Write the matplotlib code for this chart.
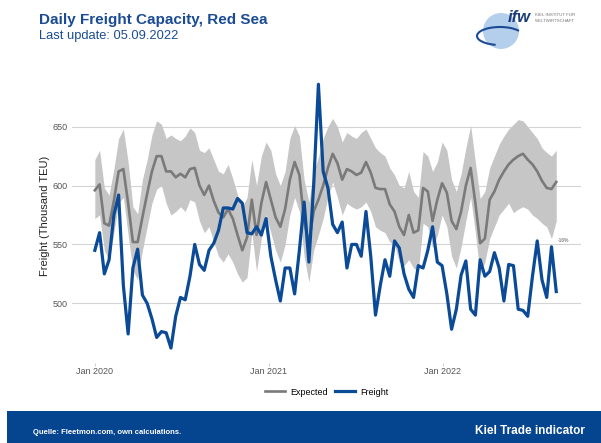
import numpy as np
import pandas as pd
import matplotlib
matplotlib.use('Agg')
import matplotlib.pyplot as plt
from matplotlib.patches import Rectangle, Ellipse, Arc

plt.rcParams['font.family'] = ['Liberation Sans', 'DejaVu Sans']

# 10-day steps from Jan 2020 to end of Aug 2022
dates = pd.date_range('2020-01-01', periods=98, freq='10D')

freight = [545, 560, 525, 537, 575, 592, 515, 474, 530, 546,
           507, 500, 487, 471, 476, 475, 462, 489, 505, 503,
           523, 550, 533, 528, 545, 551, 562, 581, 581, 580,
           589, 585, 560, 559, 565, 558, 572, 540, 520, 502,
           530, 530, 508, 545, 586, 535, 600, 686, 612, 598,
           567, 560, 569, 530, 550, 550, 540, 578, 540, 490,
           515, 537, 523, 553, 547, 525, 512, 505, 532, 530,
           545, 565, 535, 532, 508, 478, 495, 524, 536, 495,
           490, 537, 523, 527, 543, 530, 502, 533, 532, 495,
           494, 489, 523, 553, 520, 505, 548, 510]

expected = [596, 601, 568, 566, 587, 612, 614, 585, 552, 552,
            573, 593, 612, 625, 625, 612, 612, 607, 610, 607,
            614, 615, 600, 592, 600, 587, 577, 573, 580, 572,
            558, 545, 556, 588, 558, 585, 603, 588, 573, 565,
            580, 605, 620, 609, 570, 551, 578, 588, 600, 615,
            627, 619, 605, 614, 612, 609, 611, 620, 611, 598,
            597, 597, 584, 578, 565, 558, 575, 560, 562, 598,
            595, 570, 588, 602, 594, 570, 563, 578, 600, 615,
            585, 551, 555, 588, 595, 605, 612, 618, 622, 625,
            627, 622, 618, 612, 604, 598, 597, 603]

expected_lo = [572, 575, 545, 536, 560, 585, 590, 558, 528, 520,
               545, 565, 585, 597, 600, 585, 575, 578, 582, 578,
               588, 586, 570, 560, 565, 552, 540, 535, 542, 535,
               525, 518, 522, 560, 527, 555, 575, 560, 545, 535,
               550, 575, 590, 578, 540, 518, 545, 558, 572, 590,
               603, 590, 575, 585, 582, 580, 582, 586, 578, 565,
               562, 560, 552, 550, 535, 532, 537, 530, 527, 568,
               565, 547, 558, 575, 565, 540, 530, 548, 570, 590,
               560, 524, 535, 555, 565, 575, 580, 585, 577, 580,
               582, 580, 575, 572, 568, 565, 555, 570]

expected_hi = [622, 630, 598, 592, 614, 640, 648, 620, 582, 576,
               605, 622, 643, 655, 652, 640, 643, 640, 638, 642,
               649, 645, 630, 628, 632, 622, 612, 610, 618, 606,
               592, 582, 590, 622, 600, 625, 637, 630, 610, 600,
               612, 640, 651, 642, 605, 586, 612, 624, 640, 650,
               657, 650, 637, 645, 642, 640, 645, 648, 640, 632,
               628, 625, 615, 609, 600, 598, 612, 595, 590, 629,
               625, 612, 620, 637, 630, 605, 595, 610, 632, 651,
               620, 589, 595, 615, 625, 635, 642, 648, 652, 656,
               655, 650, 645, 640, 632, 628, 625, 630]

blue = '#0b4a97'
grey_line = '#7a7a7a'
band = '#c6c6c6'

fig = plt.figure(figsize=(6.01, 4.43), dpi=100)
ax = fig.add_axes([0.1198, 0.1813, 0.8469, 0.6641])

ax.fill_between(dates, expected_lo, expected_hi, color=band, lw=0)
ax.plot(dates, expected, color=grey_line, lw=1.9, label='Expected')
ax.plot(dates, freight, color=blue, lw=2.3, label='Freight')

ax.text(dates[-1] + pd.Timedelta(days=3), 553, '-16%', fontsize=3.5,
        color='#555555', va='center', ha='left')

x0 = pd.Timestamp('2020-01-01')
ax.set_xlim(x0 - pd.Timedelta(days=48), x0 + pd.Timedelta(days=1022))
ax.set_ylim(449.6, 699.4)

ax.set_yticks([500, 550, 600, 650])
ax.set_xticks([pd.Timestamp('2020-01-01'), pd.Timestamp('2021-01-01'),
               pd.Timestamp('2022-01-01')])
ax.set_xticklabels(['Jan 2020', 'Jan 2021', 'Jan 2022'])
ax.tick_params(axis='both', colors='#c8c8c8', labelcolor='#555555',
               labelsize=6.5, length=2, width=0.6)
ax.tick_params(axis='y', length=0, pad=3)
ax.tick_params(axis='x', pad=1)
ax.grid(axis='y', color='#d4d4d4', lw=0.8)
ax.set_axisbelow(True)
for s in ax.spines.values():
    s.set_visible(False)
ax.set_ylabel('Freight (Thousand TEU)', fontsize=8, color='#222222', labelpad=2)

leg = ax.legend(loc='center', bbox_to_anchor=(0.5, -0.1), ncol=2,
                frameon=False, fontsize=6.5, handlelength=2.2,
                columnspacing=0.8, handletextpad=0.6)

# header
fig.text(39 / 601, 1 - 20 / 443, 'Daily Freight Capacity, Red Sea',
         fontsize=11, fontweight='bold', color='#1b4b94', va='center')
fig.text(39 / 601, 1 - 36 / 443, 'Last update: 05.09.2022',
         fontsize=9.3, color='#1b4b94', va='center')

# logo
fig.patches.append(Ellipse((501 / 601, 1 - 31 / 443), 36 / 601, 36 / 443,
                           transform=fig.transFigure, facecolor='#b4cfec',
                           edgecolor='none'))
fig.patches.append(Arc((500 / 601, 1 - 36 / 443), 46 / 601, 18 / 443,
                       theta1=20, theta2=250, transform=fig.transFigure,
                       edgecolor='#1b4b94', lw=1.5))
fig.text(519 / 601, 1 - 18 / 443, 'ifw', fontsize=12, fontweight='bold',
         fontstyle='italic', color='#1b3d7a', va='center', ha='center')
fig.text(535 / 601, 1 - 15 / 443, 'KIEL INSTITUT FÜR', fontsize=3.2,
         color='#777777', va='center')
fig.text(535 / 601, 1 - 21 / 443, 'WELTWIRTSCHAFT', fontsize=3.2,
         color='#777777', va='center')

# footer
fig.patches.append(Rectangle((7 / 601, 0), 594 / 601, 32 / 443,
                             transform=fig.transFigure, facecolor='#05448f',
                             edgecolor='none'))
fig.text(33 / 601, 1 - 432 / 443, 'Quelle: Fleetmon.com, own calculations.',
         fontsize=5.5, fontweight='bold', color='white', va='center')
fig.text(585 / 601, 1 - 431 / 443, 'Kiel Trade indicator',
         fontsize=8.5, fontweight='bold', color='white', va='center', ha='right')

fig.savefig('out.png', dpi=100)
